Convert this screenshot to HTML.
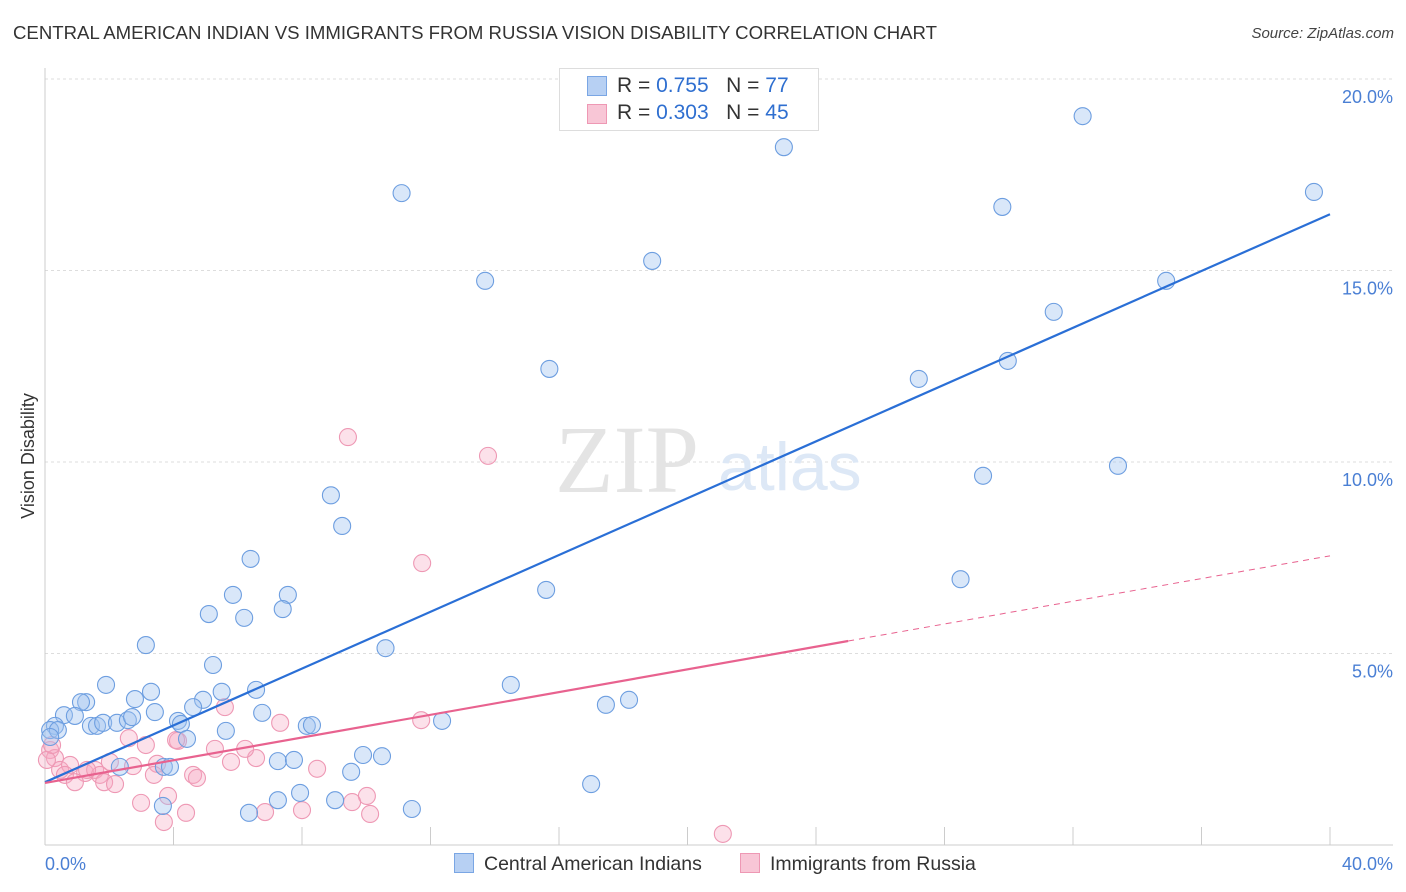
<!DOCTYPE html>
<html><head><meta charset="utf-8"><style>
body{margin:0;background:#fff;font-family:"Liberation Sans",sans-serif;}
#wrap{position:relative;width:1406px;height:892px;overflow:hidden;}
.t{position:absolute;white-space:nowrap;}
</style></head><body>
<div id="wrap">
<div class="t" style="left:13px;top:22px;font-size:18.6px;color:#333;">CENTRAL AMERICAN INDIAN VS IMMIGRANTS FROM RUSSIA VISION DISABILITY CORRELATION CHART</div>
<div class="t" style="right:12px;top:25px;font-size:15px;color:#444;font-style:italic;">Source: ZipAtlas.com</div>
<svg id="plot" width="1406" height="892" style="position:absolute;left:0;top:0"></svg>
</div>
<script>
const yTicks=[5,10,15,20];
const yTickLabels=["5.0%","10.0%","15.0%","20.0%"];
const blueX=[11.1,23.0,32.3,39.5,29.8,18.9,13.7,34.9,31.4,29.97,15.7,27.2,29.2,33.4,8.9,9.25,6.4,28.5,15.6,5.85,7.56,5.1,6.2,7.4,3.14,10.6,5.23,1.9,3.3,14.5,2.8,5.5,4.92,1.28,3.42,1.12,4.61,6.57,18.18,17.46,6.76,0.59,0.93,1.43,1.62,1.81,2.24,2.58,2.71,4.14,4.23,12.36,8.15,8.31,5.63,4.42,0.31,0.16,0.40,2.33,3.70,3.89,7.25,7.75,9.9,10.49,9.53,17.0,7.94,7.25,9.03,3.67,6.35,11.42,0.16];
const blueY=[17.02,18.22,19.03,17.05,16.66,15.25,14.73,14.73,13.92,12.64,12.43,12.17,9.64,9.9,9.13,8.33,7.47,6.94,6.66,6.53,6.53,6.03,5.93,6.16,5.22,5.14,4.7,4.18,4.0,4.18,3.81,4.0,3.79,3.73,3.47,3.73,3.6,4.05,3.79,3.66,3.45,3.39,3.37,3.11,3.11,3.19,3.19,3.26,3.34,3.24,3.16,3.24,3.11,3.13,2.98,2.77,3.11,3.0,3.0,2.04,2.04,2.04,2.19,2.22,2.35,2.32,1.91,1.59,1.36,1.17,1.17,1.02,0.84,0.94,2.82];
const pinkX=[9.43,13.79,11.74,5.6,11.71,7.32,4.14,5.29,2.61,3.14,6.57,5.79,3.49,2.74,2.02,0.16,0.31,0.47,0.78,0.62,1.25,1.56,1.71,1.84,0.93,2.18,4.61,4.73,3.39,8.47,3.83,10.02,9.56,2.99,1.31,4.39,6.85,8.0,10.12,3.70,21.1,0.06,0.22,4.08,6.23];
const pinkY=[10.65,10.16,7.36,3.6,3.26,3.19,2.72,2.51,2.79,2.61,2.27,2.17,2.12,2.06,2.17,2.48,2.27,1.96,2.09,1.83,1.88,1.96,1.83,1.64,1.64,1.59,1.83,1.75,1.83,1.99,1.28,1.28,1.12,1.1,1.96,0.84,0.86,0.91,0.81,0.60,0.29,2.22,2.61,2.74,2.51];
const blueTrend=[1.64,16.47];
const pinkTrend=[1.62,7.55];
const pinkSolidEnd=25;
const X0=45,X1=1330,Y0=845,PXY=191.5/5;
const sx=v=>X0+(X1-X0)*v/40, sy=v=>Y0-v*PXY;
const svg=document.getElementById('plot');const NS='http://www.w3.org/2000/svg';
function mk(t,a,txt){const e=document.createElementNS(NS,t);for(const k in a)e.setAttribute(k,a[k]);if(txt!=null)e.textContent=txt;svg.appendChild(e);return e;}
yTicks.forEach((v,i)=>{
 const g=mk('line',{x1:X0,x2:1393,y1:sy(v),y2:sy(v),stroke:'#ddd','stroke-dasharray':'3,3'});
 
 
 const t=mk('text',{x:1393,y:sy(v)+24,'text-anchor':'end','font-size':'18',fill:'#4a7fd4'},yTickLabels[i]);
 
 
});
const ax=mk('line',{x1:X0,x2:X0,y1:68,y2:Y0,stroke:'#ccc'});


const bx=mk('line',{x1:X0,x2:1393,y1:Y0,y2:Y0,stroke:'#ccc'});


for(let i=1;i<=10;i++){const x=X0+i*(X1-X0)/10;const tk=mk('line',{x1:x,x2:x,y1:Y0-18,y2:Y0,stroke:'#ccc'});
 
 }
const xl=mk('text',{x:45,y:870,'font-size':'18',fill:'#4a7fd4'},'0.0%');


const xr=mk('text',{x:1393,y:870,'font-size':'18',fill:'#4a7fd4','text-anchor':'end'},'40.0%');


const yt=mk('text',{x:34,y:456,'font-size':'18',fill:'#333','text-anchor':'middle',transform:'rotate(-90 34 456)'},'Vision Disability');


const w1=mk('text',{x:555,y:492,'font-size':'96','font-family':'Liberation Serif,serif',fill:'#e4e4e4'},'ZIP');


const w2=mk('text',{x:718,y:490,'font-size':'68',fill:'#dde8f6'},'atlas');


pinkX.forEach((v,i)=>{const c=mk('circle',{cx:sx(v),cy:sy(pinkY[i]),r:8.5,fill:'rgba(246,170,195,0.35)',stroke:'#ee98b4','stroke-width':1.1});
 
 });
blueX.forEach((v,i)=>{const c=mk('circle',{cx:sx(v),cy:sy(blueY[i]),r:8.5,fill:'rgba(160,195,240,0.4)',stroke:'#6d9ee0','stroke-width':1.1});
 
 });
const bl=mk('line',{x1:sx(0),y1:sy(blueTrend[0]),x2:sx(40),y2:sy(blueTrend[1]),stroke:'#2a6fd6','stroke-width':2.2});


const pe=pinkTrend[0]+(pinkTrend[1]-pinkTrend[0])*pinkSolidEnd/40;
const pl=mk('line',{x1:sx(0),y1:sy(pinkTrend[0]),x2:sx(pinkSolidEnd),y2:sy(pe),stroke:'#e8628f','stroke-width':2.2});


const pd=mk('line',{x1:sx(pinkSolidEnd),y1:sy(pe),x2:sx(40),y2:sy(pinkTrend[1]),stroke:'#e8628f','stroke-width':1,'stroke-dasharray':'6,5'});


</script>
<div class="t" style="left:559px;top:68px;width:258px;height:61px;border:1px solid #ddd;background:#fff;font-size:21px;color:#333;">
 <div style="position:absolute;left:27px;top:7px;width:18px;height:18px;background:#b7d0f3;border:1px solid #7aa6e4"></div>
 <div style="position:absolute;left:57px;top:5px;">R = <span style="color:#2f6fd0">0.755</span>&nbsp;&nbsp;&nbsp;N = <span style="color:#2f6fd0">77</span></div>
 <div style="position:absolute;left:27px;top:35px;width:18px;height:18px;background:#f8c6d6;border:1px solid #ee98b4"></div>
 <div style="position:absolute;left:57px;top:32px;">R = <span style="color:#2f6fd0">0.303</span>&nbsp;&nbsp;&nbsp;N = <span style="color:#2f6fd0">45</span></div>
</div>
<div class="t" style="left:454px;top:853px;font-size:19.5px;color:#333;"><span style="display:inline-block;width:18px;height:18px;background:#b7d0f3;border:1px solid #7aa6e4;vertical-align:-3px;margin-right:10px"></span>Central American Indians</div>
<div class="t" style="left:740px;top:853px;font-size:19.5px;color:#333;"><span style="display:inline-block;width:18px;height:18px;background:#f8c6d6;border:1px solid #ee98b4;vertical-align:-3px;margin-right:10px"></span>Immigrants from Russia</div>
</body></html>
